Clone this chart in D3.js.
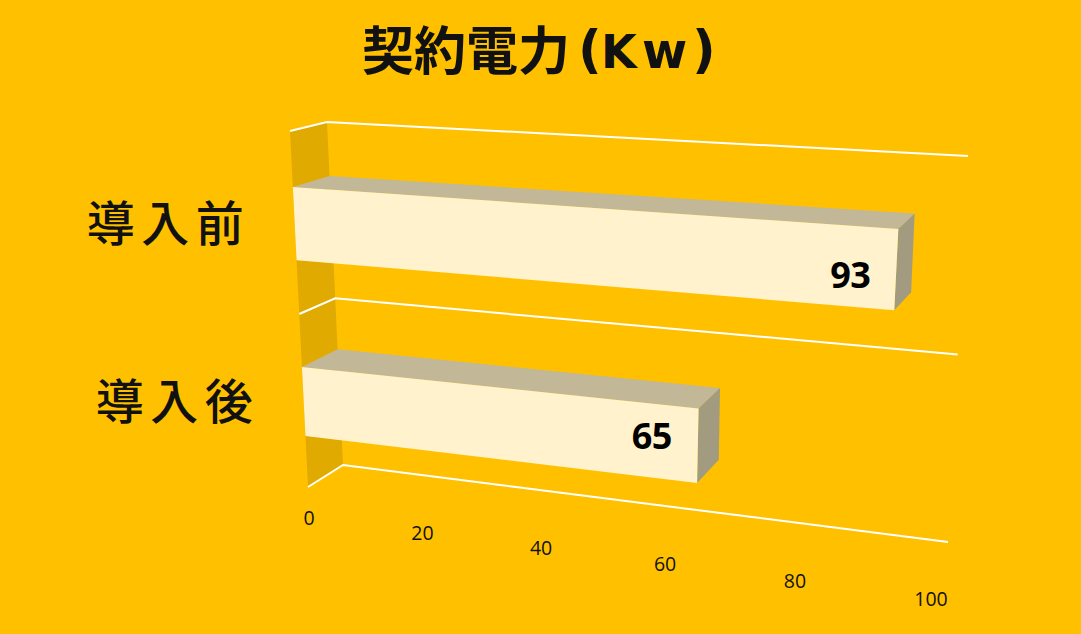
<!DOCTYPE html>
<html><head><meta charset="utf-8">
<script src="https://cdnjs.cloudflare.com/ajax/libs/d3/7.8.5/d3.min.js"></script>
<style>html,body{margin:0;padding:0;background:#FFC000;overflow:hidden}svg{display:block}</style>
</head><body><svg id="c" width="1081" height="634"></svg>
<script>
const categories = ["導入前", "導入後"];
const values = [93, 65];
const tickValues = [0, 20, 40, 60, 80, 100];
const titleCjk = "契約電力";

// Chart-box corners of the 3D view: [value end][height end][depth end]
const box = {
  v0h0d0:[308,487], v0h0d1:[343,465], v0h1d0:[290,131], v0h1d1:[327,122],
  v1h0d0:[930,568], v1h0d1:[948,542], v1h1d0:[953,170], v1h1d1:[968,156]
};
const labelShift = [5, -10];
const persp = k => t => t / (t + k * (1 - t));
const vScale = d3.scaleLinear().domain([0,100]).range([0,1]);
const vWarpFront = persp(1.12), vWarpBack = persp(1.14), hWarp = persp(1.058);
const band = d3.scaleBand().domain(categories.slice().reverse()).range([0,1]).paddingInner(0.6).paddingOuter(0.3);
function project(v,h,d){
  const tf=vWarpFront(vScale(v)), tb=vWarpBack(vScale(v)), u=hWarp(h);
  const lerp=(a,b,s)=>[a[0]+(b[0]-a[0])*s,a[1]+(b[1]-a[1])*s];
  const front=lerp(lerp(box.v0h0d0,box.v1h0d0,tf),lerp(box.v0h1d0,box.v1h1d0,tf),u);
  const back =lerp(lerp(box.v0h0d1,box.v1h0d1,tb),lerp(box.v0h1d1,box.v1h1d1,tb),u);
  return lerp(front,back,d);
}
const svg=d3.select("#c");
const poly=pts=>pts.map(p=>p.join(",")).join(" ");
const line=d3.line();
const CJK='"Noto Sans CJK JP","Noto Sans",sans-serif';
const LAT='"Open Sans","Noto Sans",sans-serif';
const DV='"DejaVu Sans",sans-serif';

svg.append("rect").attr("width",1081).attr("height",634).attr("fill","#FFC000");
svg.append("polygon").attr("fill","#E0AA00")
  .attr("points",poly([project(0,0,0),project(0,0,1),project(0,1,1),project(0,1,0)]));
[0,0.5,1].forEach(h=>{
  svg.append("path").attr("fill","none").attr("stroke","#fff").attr("stroke-width",2)
    .attr("d",line([project(0,h,0),project(0,h,1),project(100,h,1)]));
});
categories.forEach((c,i)=>{
  const v=values[i], h0=band(c), h1=h0+band.bandwidth();
  const g=svg.append("g");
  g.append("polygon").attr("fill","#C2B797").attr("points",poly([project(0,h1,0),project(0,h1,1),project(v,h1,1),project(v,h1,0)]));
  g.append("polygon").attr("fill","#A39B80").attr("points",poly([project(v,h0,0),project(v,h0,1),project(v,h1,1),project(v,h1,0)]));
  g.append("polygon").attr("fill","#FFF2CC").attr("points",poly([project(0,h0,0),project(v,h0,0),project(v,h1,0),project(0,h1,0)]));
  const p=project(v,(h0+h1)/2,0);
  g.append("text").attr("x",p[0]-46).attr("y",p[1]+13+labelShift[i]).attr("text-anchor","middle")
    .attr("font-family",LAT).attr("font-weight",700).attr("font-size",36).attr("letter-spacing",-0.5).attr("fill","#000").text(v);
});
tickValues.forEach(t=>{
  const p=project(t,0,0);
  svg.append("text").attr("x",p[0]+1).attr("y",p[1]+38).attr("text-anchor","middle")
    .attr("font-family",LAT).attr("font-size",19.5).attr("fill","#111").text(t);
});
categories.forEach(c=>{
  const p=project(0,band(c)+band.bandwidth()/2,0);
  svg.append("text").attr("x",p[0]-208).attr("y",p[1]+17)
    .attr("font-family",CJK).attr("font-weight",500).attr("font-size",48).attr("letter-spacing",6.5)
    .attr("fill","#111").text(c);
});
const title=svg.append("text").attr("y",70).attr("fill","#111").attr("font-weight",700);
title.append("tspan").attr("x",362).attr("font-family",CJK).attr("font-size",52).text(titleCjk);
title.append("tspan").attr("x",578).attr("y",67).attr("font-family",DV).attr("font-size",52).text("(");
title.append("tspan").attr("x",601).attr("y",68).attr("font-family",DV).attr("font-size",46).text("K");
title.append("tspan").attr("x",642).attr("y",68).attr("font-family",DV).attr("font-size",49).text("w");
title.append("tspan").attr("x",692).attr("y",67).attr("font-family",DV).attr("font-size",52).text(")");
</script></body></html>
